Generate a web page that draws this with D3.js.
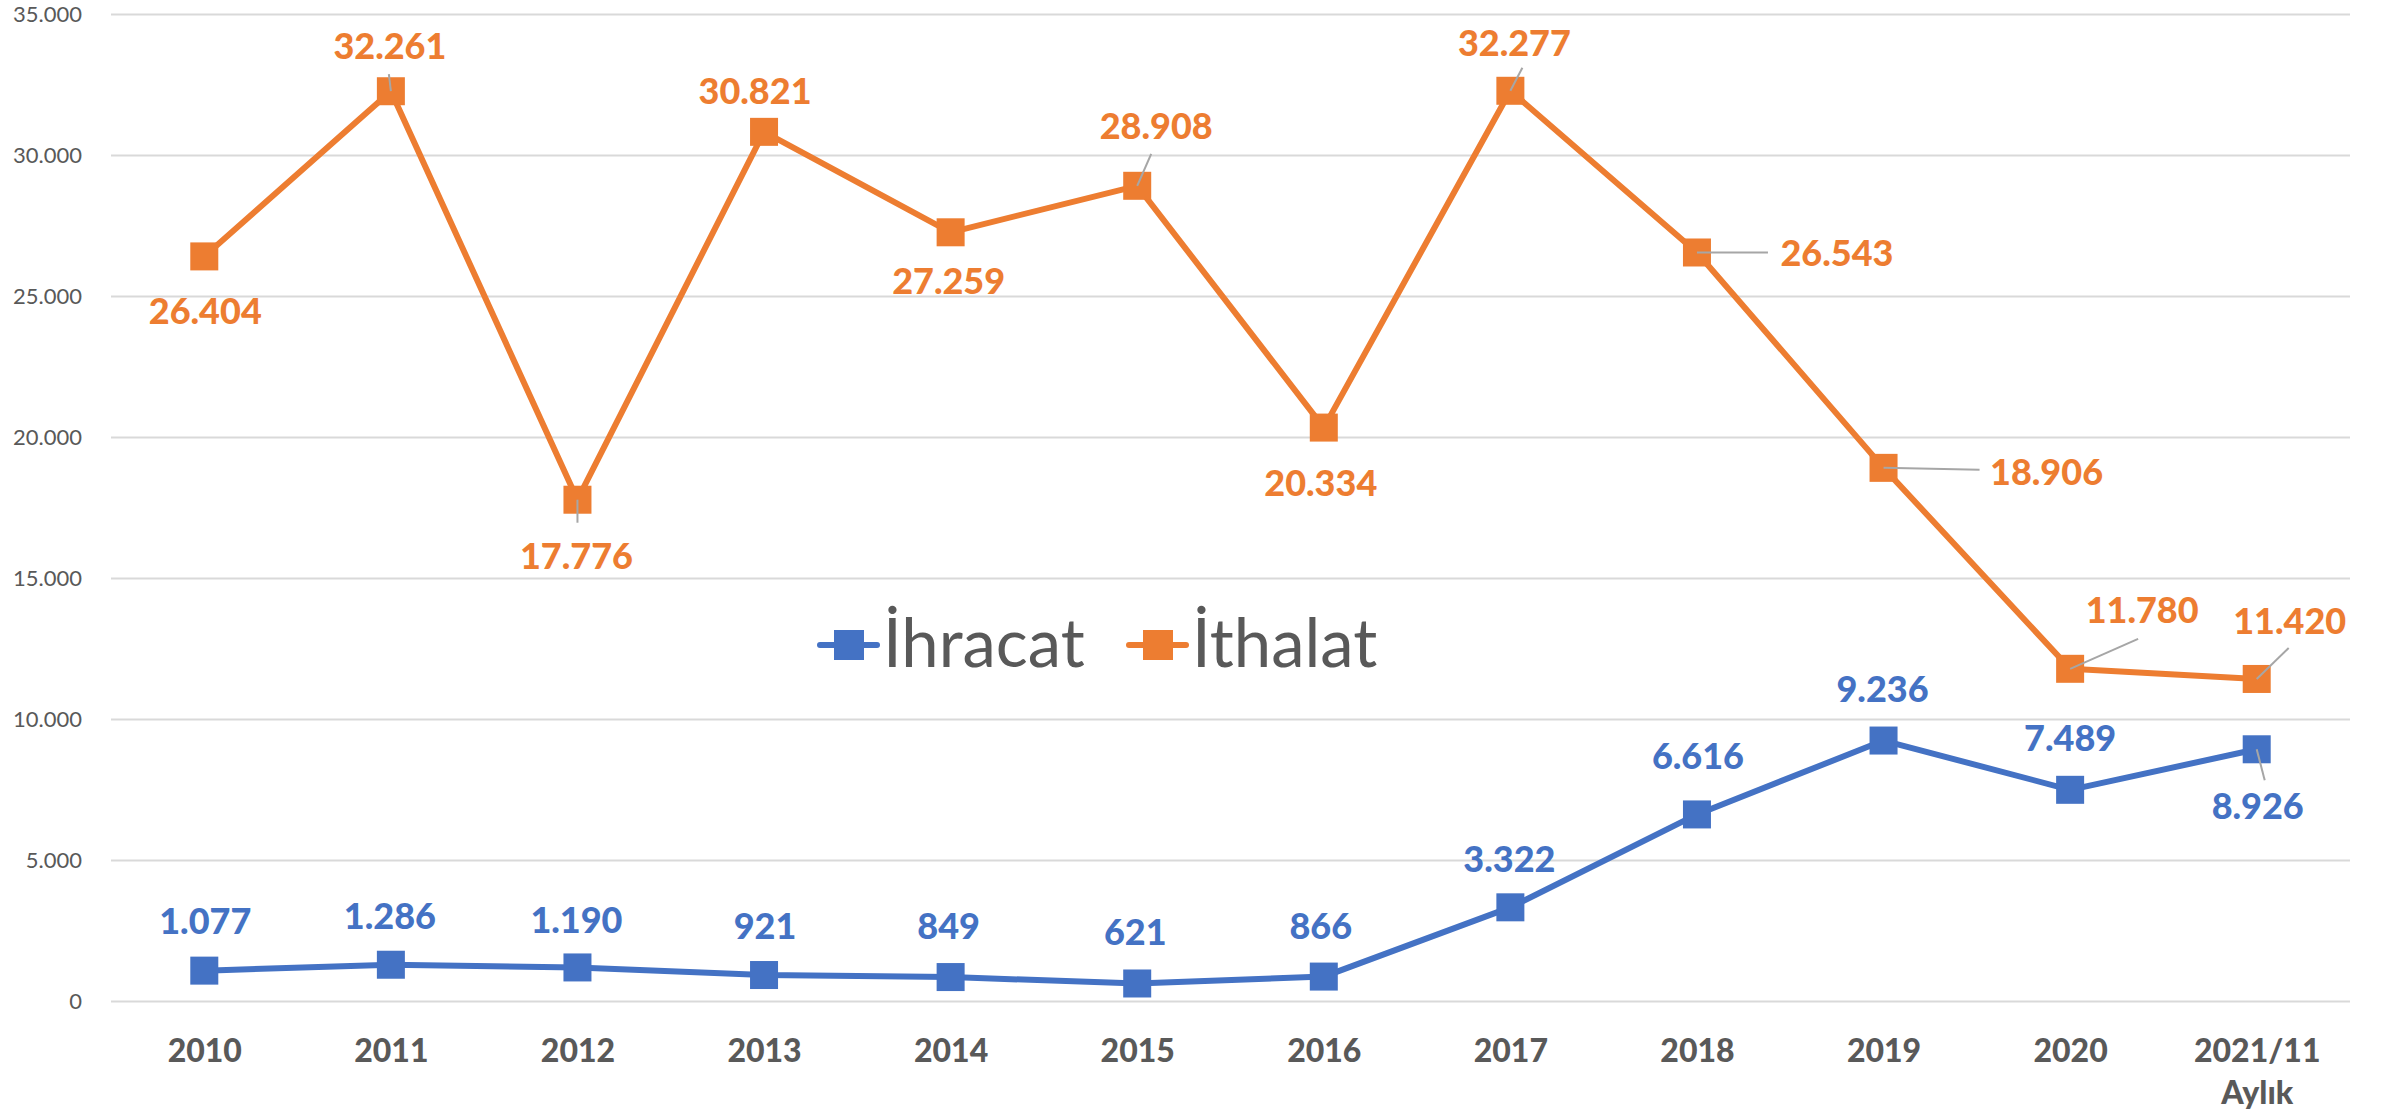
<!DOCTYPE html>
<html>
<head>
<meta charset="utf-8">
<style>
  body { margin: 0; background: #fff; }
  svg { display: block; font-family: Lato, "Noto Sans", sans-serif; }
  .grid line { stroke: #d9d9d9; stroke-width: 2; }
  .axis text { fill: #595959; }
</style>
</head>
<body>
<svg class="chart"></svg>
<script src="https://cdn.jsdelivr.net/npm/d3@7/dist/d3.min.js"></script>
<script>
  // yillar (son kategori iki satir)
  var categories = ['2010', '2011', '2012', '2013', '2014', '2015', '2016',
                    '2017', '2018', '2019', '2020', '2021/11\nAylık'];
  var ihracat = [1077, 1286, 1190, 921, 849, 621, 866, 3322, 6616, 9236, 7489, 8926];
  var ithalat = [26404, 32261, 17776, 30821, 27259, 28908, 20334, 32277, 26543, 18906, 11780, 11420];
  var yTicks = [0, 5000, 10000, 15000, 20000, 25000, 30000, 35000];

  var width = 2381,
      height = 1117,
      plotLeft = 111,
      plotRight = 2350,
      plotTop = 14,
      plotBottom = 1001,
      markerSize = 28;

  // label offsets from the marker (px), the Excel labels were dragged by hand
  var ihracatLabelPos = [[1,-50],[-1,-49],[-1,-47],[1,-49],[-2,-51],[-2,-51],[-3,-51],
                         [-1,-48],[1,-58],[-1,-52],[0,-52],[1,57]];
  var ithalatLabelPos = [[1,55],[-1,-45],[-1,56],[-9,-41],[-2,49],[19,-60],[-3,55],
                         [4,-48],[140,1],[163,4],[72,-59],[33,-58]];
  // leader lines (end point from marker centre), null = no line
  var ihracatLeader = [null,null,null,null,null,null,null,null,null,null,null,[8,31]];
  var ithalatLeader = [null,[-2,-17],[0,23],null,null,[14,-32],null,[12,-23],[71,0],[96,2],[68,-30],[32,-31]];

  var series = [
    {name: 'İhracat', values: ihracat, color: '#4472C4', pos: ihracatLabelPos, leader: ihracatLeader},
    {name: 'İthalat', values: ithalat, color: '#ED7D31', pos: ithalatLabelPos, leader: ithalatLeader}
  ];

  var tr = d3.formatLocale({decimal: ',', thousands: '.', grouping: [3], currency: ['', '']});
  var fmt = tr.format(',d');

  var x = d3.scalePoint()
      .domain(categories)
      .range([plotLeft, plotRight])
      .padding(0.5);

  var y = d3.scaleLinear()
      .domain([0, 35000])
      .range([plotBottom, plotTop]);

  var svg = d3.select('.chart')
      .attr('width', width)
      .attr('height', height);

  // y axis + gridlines
  var yAxis = d3.axisLeft(y)
      .tickValues(yTicks)
      .tickFormat(fmt)
      .tickSizeInner(-(plotRight - plotLeft))
      .tickSizeOuter(0)
      .tickPadding(29);

  var gy = svg.append('g')
      .attr('class', 'axis grid')
      .attr('transform', 'translate(' + plotLeft + ',0)')
      .call(yAxis);
  gy.select('.domain').remove();
  gy.selectAll('text')
      .attr('font-size', 22)
      .attr('font-family', 'Lato, sans-serif');

  // x axis
  var xAxis = d3.axisBottom(x).tickSize(0).tickPadding(0);
  var gx = svg.append('g')
      .attr('class', 'axis')
      .attr('transform', 'translate(0,' + plotBottom + ')')
      .call(xAxis);
  gx.select('.domain').remove();
  gx.selectAll('text')
      .attr('font-size', 32)
      .attr('font-weight', 900)
      .attr('font-family', 'Lato, sans-serif')
      .attr('dy', null)
      .attr('y', 61)
      .text(null)
      .each(function (d) {
          var t = d3.select(this);
          d.split('\n').forEach(function (line, i) {
              t.append('tspan').attr('x', 0).attr('dy', i ? 42 : 0).text(line);
          });
      });

  var line = d3.line()
      .x(function (d, i) { return x(categories[i]); })
      .y(function (d) { return y(d); });

  series.forEach(function (s) {
      var g = svg.append('g');

      g.append('path')
          .datum(s.values)
          .attr('fill', 'none')
          .attr('stroke', s.color)
          .attr('stroke-width', 6)
          .attr('stroke-linejoin', 'round')
          .attr('d', line);

      g.selectAll('.marker')
          .data(s.values)
          .enter()
          .append('rect')
          .attr('class', 'marker')
          .attr('x', function (d, i) { return x(categories[i]) - markerSize / 2; })
          .attr('y', function (d) { return y(d) - markerSize / 2; })
          .attr('width', markerSize)
          .attr('height', markerSize)
          .attr('fill', s.color);

      var leaders = s.values
          .map(function (v, i) { return {v: v, i: i, end: s.leader[i]}; })
          .filter(function (d) { return d.end; });

      g.selectAll('.leader')
          .data(leaders)
          .enter()
          .append('line')
          .attr('class', 'leader')
          .attr('x1', function (d) { return x(categories[d.i]); })
          .attr('y1', function (d) { return y(d.v); })
          .attr('x2', function (d) { return x(categories[d.i]) + d.end[0]; })
          .attr('y2', function (d) { return y(d.v) + d.end[1]; })
          .attr('stroke', '#a6a6a6')
          .attr('stroke-width', 2);
  });

  // data labels on top
  series.forEach(function (s) {
      svg.append('g').selectAll('text')
          .data(s.values)
          .enter()
          .append('text')
          .attr('x', function (d, i) { return x(categories[i]) + s.pos[i][0]; })
          .attr('y', function (d, i) { return y(d) + s.pos[i][1]; })
          .attr('dy', '0.36em')
          .attr('text-anchor', 'middle')
          .attr('font-size', 36)
          .attr('font-weight', 900)
          .attr('fill', s.color)
          .text(function (d) { return fmt(d); });
  });

  // legend in the middle of the plot
  var legend = svg.append('g')
      .attr('transform', 'translate(820,645)');
  var legendX = [0, 309];
  series.forEach(function (s, i) {
      var lg = legend.append('g').attr('transform', 'translate(' + legendX[i] + ',0)');
      lg.append('line')
          .attr('x1', 0).attr('x2', 57)
          .attr('stroke', s.color)
          .attr('stroke-width', 6)
          .attr('stroke-linecap', 'round');
      lg.append('rect')
          .attr('x', 14).attr('y', -15)
          .attr('width', 30).attr('height', 30)
          .attr('fill', s.color);
      lg.append('text')
          .attr('x', 63)
          .attr('y', 22)
          .attr('font-size', 67)
          .attr('fill', '#595959')
          .text(s.name);
  });
</script>
</body>
</html>
